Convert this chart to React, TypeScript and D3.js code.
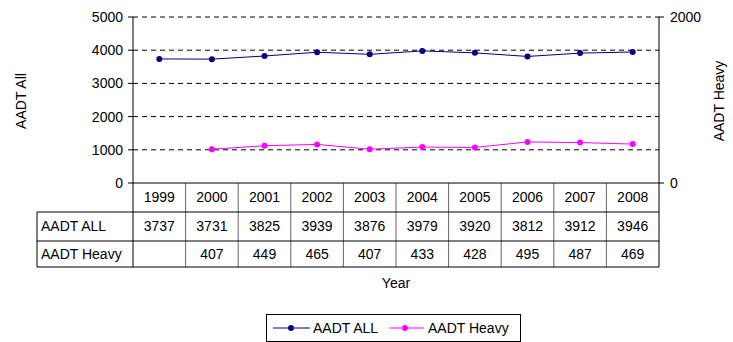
import * as d3 from "d3";

const years = ["1999", "2000", "2001", "2002", "2003", "2004", "2005", "2006", "2007", "2008"];
const aadtAll: (number | null)[] = [3737, 3731, 3825, 3939, 3876, 3979, 3920, 3812, 3912, 3946];
const aadtHeavy: (number | null)[] = [null, 407, 449, 465, 407, 433, 428, 495, 487, 469];
const leftTicks = [0, 1000, 2000, 3000, 4000, 5000];
const rightTicks = [0, 2000];

const W = 733,
  H = 342;
const m = { left: 133, right: 659, top: 17, bottom: 183 };
const rowH = [183, 212, 241, 267];
const tableLeft = 37;
const font = "Arial, 'Liberation Sans', sans-serif";
const fs = 14;

export default function App() {
  const x = d3.scaleBand().domain(years).range([m.left, m.right]);
  const yL = d3.scaleLinear().domain([0, 5000]).range([m.bottom, m.top]);
  const yR = d3.scaleLinear().domain([0, 2000]).range([m.bottom, m.top]);
  const cx = (d: string) => (x(d) ?? 0) + x.bandwidth() / 2;

  const mkLine = (ys: d3.ScaleLinear<number, number>) =>
    d3
      .line<[string, number | null]>()
      .defined((d) => d[1] != null)
      .x((d) => cx(d[0]))
      .y((d) => ys(d[1] as number));

  const allPts = years.map((y, i) => [y, aadtAll[i]] as [string, number | null]);
  const heavyPts = years.map((y, i) => [y, aadtHeavy[i]] as [string, number | null]);

  const blue = "#000080";
  const pink = "#FF00FF";

  return (
    <svg
      width={W}
      height={H}
      style={{ position: "absolute", left: 0, top: 0, background: "#fff" }}
      fontFamily={font}
      fontSize={fs}
    >
      {/* grid */}
      {leftTicks
        .filter((t) => t > 0)
        .map((t) => (
          <line
            key={"g" + t}
            x1={m.left}
            x2={m.right}
            y1={yL(t)}
            y2={yL(t)}
            stroke="#000"
            strokeDasharray="5,4"
          />
        ))}
      {/* left axis */}
      <line x1={m.left} x2={m.left} y1={m.top} y2={m.bottom} stroke="#000" />
      {leftTicks.map((t) => (
        <g key={"l" + t}>
          <line x1={m.left - 5} x2={m.left} y1={yL(t)} y2={yL(t)} stroke="#000" />
          <text x={m.left - 10} y={yL(t)} dy="0.35em" textAnchor="end">
            {t}
          </text>
        </g>
      ))}
      {/* right axis */}
      <line x1={m.right} x2={m.right} y1={m.top} y2={m.bottom} stroke="#000" />
      {rightTicks.map((t) => (
        <g key={"r" + t}>
          <line x1={m.right} x2={m.right + 5} y1={yR(t)} y2={yR(t)} stroke="#000" />
          <text x={m.right + 11} y={yR(t)} dy="0.35em">
            {t}
          </text>
        </g>
      ))}
      <text transform={`translate(26,101) rotate(-90)`} textAnchor="middle">
        AADT All
      </text>
      <text transform={`translate(724,101) rotate(-90)`} textAnchor="middle">
        AADT Heavy
      </text>

      {/* series */}
      <path d={mkLine(yL)(allPts) ?? ""} fill="none" stroke={blue} strokeWidth={1} />
      {allPts
        .filter((d) => d[1] != null)
        .map((d) => (
          <circle key={"a" + d[0]} cx={cx(d[0])} cy={yL(d[1] as number)} r={3} fill={blue} />
        ))}
      <path d={mkLine(yR)(heavyPts) ?? ""} fill="none" stroke={pink} strokeWidth={1} />
      {heavyPts
        .filter((d) => d[1] != null)
        .map((d) => (
          <circle key={"h" + d[0]} cx={cx(d[0])} cy={yR(d[1] as number)} r={3} fill={pink} />
        ))}

      {/* data table */}
      {years.map((y, i) => (
        <line
          key={"v" + y}
          x1={x(y)}
          x2={x(y)}
          y1={i === 0 ? rowH[0] : rowH[0]}
          y2={rowH[3]}
          stroke={i === 0 ? "#000" : "#666"}
        />
      ))}
      <line x1={m.right} x2={m.right} y1={rowH[0]} y2={rowH[3]} stroke="#000" />
      <line x1={tableLeft} x2={tableLeft} y1={rowH[1]} y2={rowH[3]} stroke="#000" />
      <line x1={m.left} x2={m.right} y1={rowH[0]} y2={rowH[0]} stroke="#000" />
      {rowH.slice(1).map((r) => (
        <line key={"h" + r} x1={tableLeft} x2={m.right} y1={r} y2={r} stroke="#000" />
      ))}
      {years.map((y, i) => (
        <g key={"t" + y}>
          <text x={cx(y)} y={(rowH[0] + rowH[1]) / 2} dy="0.35em" textAnchor="middle">
            {y}
          </text>
          <text x={cx(y)} y={(rowH[1] + rowH[2]) / 2} dy="0.35em" textAnchor="middle">
            {aadtAll[i] ?? ""}
          </text>
          <text x={cx(y)} y={(rowH[2] + rowH[3]) / 2} dy="0.35em" textAnchor="middle">
            {aadtHeavy[i] ?? ""}
          </text>
        </g>
      ))}
      <text x={tableLeft + 4} y={(rowH[1] + rowH[2]) / 2} dy="0.35em">
        AADT ALL
      </text>
      <text x={tableLeft + 4} y={(rowH[2] + rowH[3]) / 2} dy="0.35em">
        AADT Heavy
      </text>
      <text x={(m.left + m.right) / 2} y={283} dy="0.35em" textAnchor="middle">
        Year
      </text>

      {/* legend */}
      <rect x={266.5} y={314.5} width={254} height={27} fill="#fff" stroke="#000" />
      <line x1={273} x2={310} y1={328} y2={328} stroke={blue} />
      <circle cx={291} cy={328} r={3} fill={blue} />
      <text x={313} y={328} dy="0.35em">
        AADT ALL
      </text>
      <line x1={389} x2={424} y1={328} y2={328} stroke={pink} />
      <circle cx={405} cy={328} r={3} fill={pink} />
      <text x={428} y={328} dy="0.35em">
        AADT Heavy
      </text>
    </svg>
  );
}
